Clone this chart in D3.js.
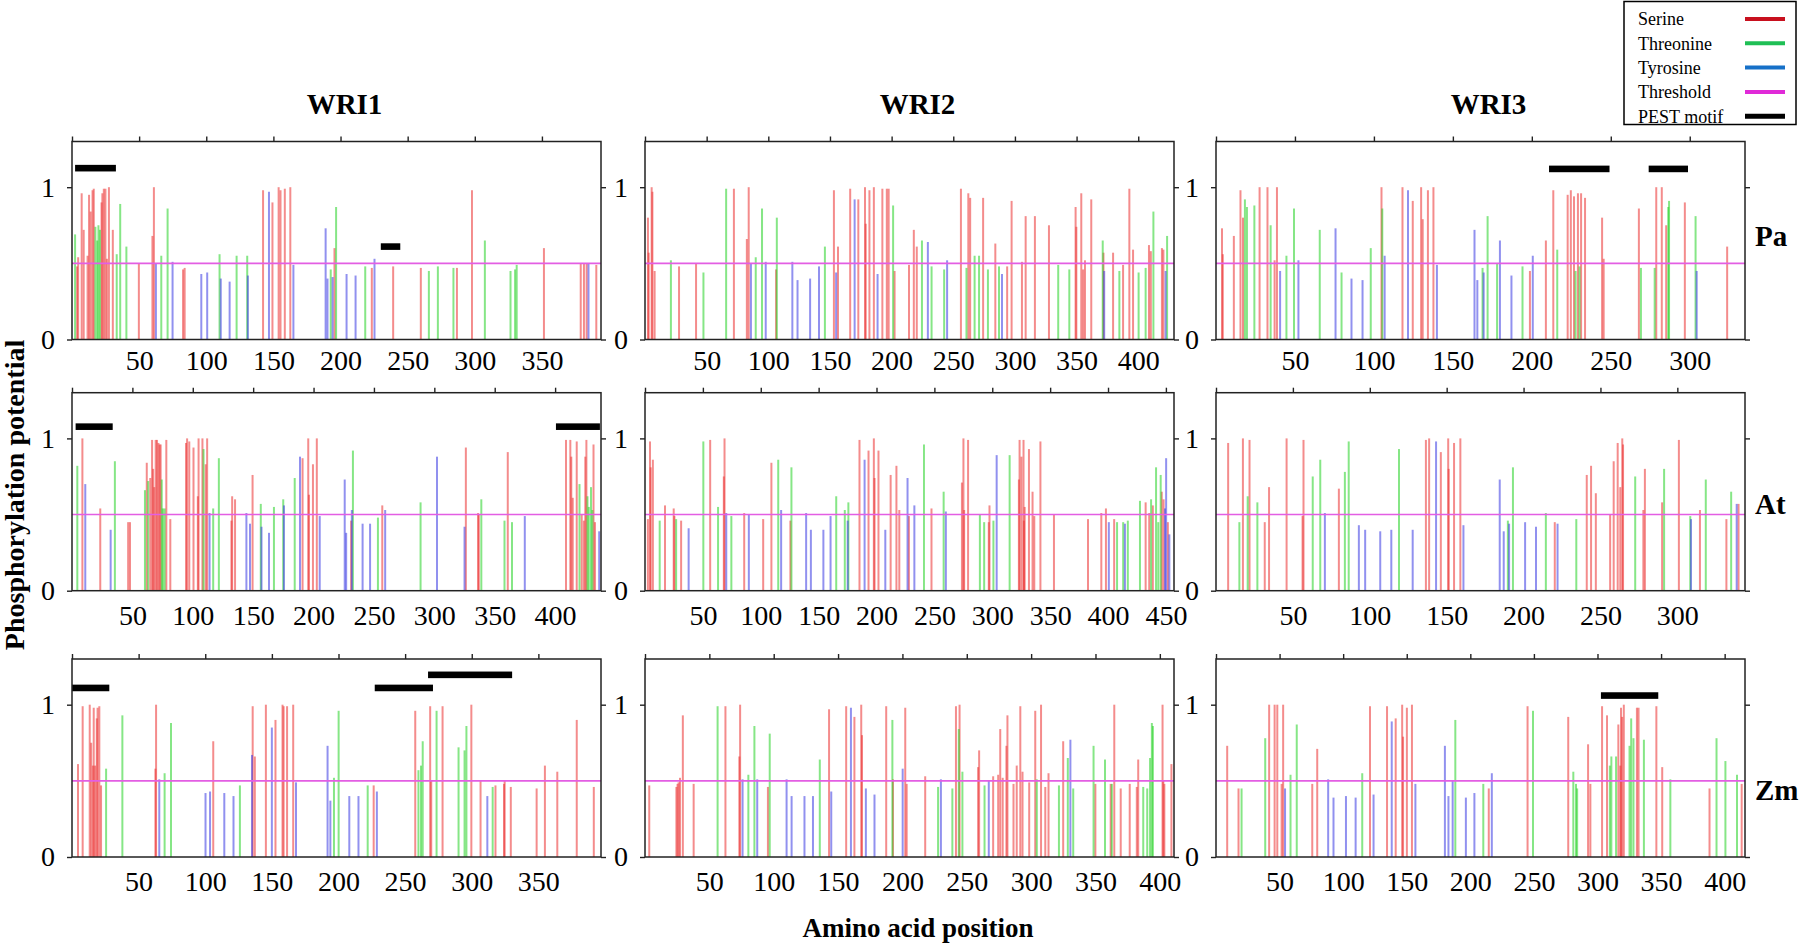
<!DOCTYPE html>
<html><head><meta charset="utf-8">
<script src="https://cdn.jsdelivr.net/npm/d3@7"></script>
<style>
body{margin:0;background:#fff}
text{font-family:"Liberation Serif","Times New Roman",Times,serif;fill:#000}
</style>
</head><body>
<svg id="chart" width="1800" height="947"></svg>
<script>
// ---------------- DATA ----------------
const proteins = ["WRI1", "WRI2", "WRI3"];
const species = ["Pa", "At", "Zm"];
const residueTypes = ["Serine", "Threonine", "Tyrosine"];
const legendItems = ["Serine", "Threonine", "Tyrosine", "Threshold", "PEST motif"];
const threshold = 0.5;
// axis extent (amino acids) per species row / protein column
const seqLength = [[394, 429, 335], [438, 457, 344], [397, 411, 416]];
const tickLabels = [
  [[50,100,150,200,250,300,350], [50,100,150,200,250,300,350,400], [50,100,150,200,250,300]],
  [[50,100,150,200,250,300,350,400], [50,100,150,200,250,300,350,400,450], [50,100,150,200,250,300]],
  [[50,100,150,200,250,300,350], [50,100,150,200,250,300,350,400], [50,100,150,200,250,300,350,400]]
];

// [position, phosphorylation potential]
const WRI1_Pa_Ser = [[3.8,.48],[4.6,.54],[7.2,.96],[8.7,.72],[11.6,.55],[12.7,.95],[13.9,.84],[15.3,.98],[16.2,.99],[22,.9],[22.6,.96],[23.7,.99],[24.9,.99],[26,.53],[27.5,1],[30.4,.72],[49.8,.5],[59.9,.68],[61,1],[82.7,.46],[83.9,.47],[142.3,.98],[149.3,.9],[153.9,1],[155.3,.98],[158.5,.99],[162.6,1],[195.5,.6],[223.3,.47],[239.2,.48],[259.8,.47],[286.7,.47],[297.9,.98],[351.5,.6],[378.9,.5],[381.3,.5],[383.3,.5],[390.5,.49]];
const WRI1_Pa_Thr = [[2.3,.69],[17.4,.74],[18.8,.65],[19.7,.75],[20.8,.72],[33.3,.56],[35.9,.89],[40.5,.61],[66.5,.55],[71.2,.86],[109.9,.56],[122.6,.55],[130.5,.55],[192.7,.46],[196.7,.87],[218.4,.48],[265.8,.45],[272.5,.48],[284.1,.47],[307.5,.65],[326.6,.45],[330,.46],[331.2,.49]];
const WRI1_Pa_Tyr = [[62.5,.5],[74.9,.51],[96.3,.43],[100.7,.44],[110.8,.4],[117.4,.38],[131,.42],[146.7,.97],[164.9,.49],[188.9,.73],[190.3,.4],[194.1,.41],[204.5,.43],[211.2,.42],[225.3,.53],[384.7,.5]];
const WRI1_Pa_PEST = [[2.3,32.7,1.125],[230,244.5,0.61]];

const WRI2_Pa_Ser = [[2.4,.8],[3,.57],[5.4,1],[6,.97],[7.8,.45],[27.6,.48],[41.4,.5],[72.1,.99],[82.6,.66],[84.1,1],[106.3,.46],[153.2,.98],[156.5,.61],[166.4,.99],[173,.92],[178.4,1],[179,.76],[182,.98],[185.6,1],[192.5,.99],[196.1,.99],[197.6,.99],[202.4,.45],[214.1,.49],[218,.72],[220.4,.61],[256.2,.99],[262.2,.96],[263.7,.93],[274.2,.93],[284.1,.63],[293.7,.48],[297.3,.91],[305.7,.51],[308.7,.81],[316.2,.81],[327.6,.75],[349.2,.87],[349.8,.74],[353.8,.96],[355.3,.46],[356.8,.52],[361.9,.92],[371.8,.57],[379.6,.57],[387.7,.49],[392.8,.99],[395.8,.59],[408.7,.62],[410.2,.58],[419.2,.6],[420.4,.59]];
const WRI2_Pa_Thr = [[21,.52],[47.4,.44],[65.8,.99],[89.8,.54],[94.9,.86],[106.9,.8],[145.9,.61],[201.2,.88],[224.6,.65],[232.4,.48],[242.6,.46],[260.7,.47],[267.3,.55],[270.9,.55],[278.1,.46],[287.1,.48],[335.1,.49],[344.1,.46],[371.2,.65],[384.7,.45],[400.3,.44],[406,.47],[412.3,.84],[423.4,.68]];
const WRI2_Pa_Tyr = [[85.9,.5],[97.9,.51],[119.5,.51],[123.7,.39],[133.9,.4],[141.1,.48],[155,.44],[170,.92],[188.6,.43],[229.4,.64],[245,.52],[289.5,.43],[372.4,.45],[422.2,.45]];
const WRI2_Pa_PEST = [];

const WRI3_Pa_Ser = [[3.8,.73],[4.3,.56],[11.3,.68],[15.5,.98],[17.1,.8],[27.6,1],[32.6,1],[37.1,.52],[38.6,1],[104.8,1],[118.1,1],[124.6,.91],[129.9,1],[130.9,.79],[134.2,.98],[137.7,1],[198.8,.45],[208.9,.65],[213.6,.98],[222.7,.95],[224.7,.98],[226.7,.94],[229.2,.96],[231.2,.96],[233.7,.93],[244.5,.8],[245.5,.53],[267.8,.86],[278.8,1],[282.3,1],[285.1,.75],[296.9,.9],[323.7,.61]];
const WRI3_Pa_Thr = [[18.3,.92],[19.6,.87],[24.3,.88],[34.6,.75],[44.6,.55],[49.4,.86],[65.7,.72],[79.5,.44],[98,.6],[105.3,.86],[168.8,.47],[172,.81],[178,.5],[194.1,.48],[216.1,.59],[227.7,.45],[230.2,.48],[269.1,.47],[277.8,.47],[286.4,.87],[286.9,.91],[303.7,.81]];
const WRI3_Pa_Tyr = [[40.6,.45],[52.2,.52],[75.7,.73],[85.8,.4],[92.8,.39],[106.8,.55],[121.6,.98],[139.9,.49],[163.7,.72],[165.5,.39],[169.5,.44],[179.8,.65],[187.1,.42],[200.6,.55],[304.4,.45]];
const WRI3_Pa_PEST = [[210.9,249.2,1.12],[274,298.9,1.12]];

const WRI1_At_Ser = [[8.6,1],[23.4,.54],[46.5,.45],[48,.45],[61.9,.84],[64.8,.74],[66.3,.99],[67.2,.8],[68.1,.68],[69.3,.99],[70.4,.99],[71.6,.97],[72.5,.96],[73.4,.96],[78.1,.99],[81.4,.47],[94.4,.97],[95.3,1],[97.1,.98],[100.6,.94],[104.2,.62],[104.8,1],[108,1],[110.7,.83],[111.9,1],[132,.46],[132.6,.62],[135,.6],[149.5,.76],[190.9,.87],[195.6,1],[196.2,.63],[199.5,.83],[202.7,1],[231.1,.46],[256.9,.56],[326.1,.94],[336.2,.51],[336.8,.5],[360.8,.91],[409,.99],[412.6,.99],[413.4,.88],[414.6,.61],[417.9,.98],[422,.5],[423.8,.46],[425,.88],[425.9,.99],[431.8,.96],[433,.45]];
const WRI1_At_Thr = [[4.4,.82],[35.5,.85],[60.4,.66],[63.1,.72],[74.3,.73],[75.2,.54],[76.7,.54],[108.9,.93],[116.9,.54],[121.6,.87],[156.3,.57],[167.2,.55],[174.9,.6],[184.4,.74],[232.6,.92],[253.3,.48],[288.6,.58],[338.9,.6],[358.1,.46],[364.3,.45],[420.2,.7],[426.8,.62],[427.9,.55],[429.7,.68],[430.9,.53]];
const WRI1_At_Tyr = [[11,.7],[32,.4],[113.9,.51],[144.4,.51],[147.4,.44],[156.9,.42],[163.1,.38],[175.5,.56],[188.8,.88],[205.1,.49],[225.8,.73],[227,.38],[231.7,.53],[240.6,.44],[246.8,.44],[259.3,.53],[302.2,.88],[325,.42],[374.9,.49],[436.5,.39]];
const WRI1_At_PEST = [[3,33.7,1.077],[400.7,437.1,1.077]];

const WRI2_At_Ser = [[2.5,.47],[4.3,.98],[4.9,.81],[6.8,.86],[17.3,.56],[24.8,.54],[25.4,.49],[31.2,.46],[56.3,.99],[68.1,.75],[68.7,1],[85.7,.51],[102.1,.47],[109.2,.84],[125.6,.46],[185.3,.99],[193.1,.92],[197.7,1],[198.3,.74],[201.7,.92],[212.2,.76],[217.2,.82],[219.7,.53],[228,.49],[247.5,.54],[273.8,.71],[275.1,1],[275.7,.53],[279.1,.99],[297,.45],[297.6,.56],[323,.73],[323.6,.99],[325.2,.88],[327,.99],[327.3,.46],[328,.55],[331.7,.93],[334.8,.65],[336.3,.49],[341.6,.98],[353.3,.5],[382.7,.47],[394.2,.51],[398.2,.54],[405.3,.47],[432.5,.58],[435.6,.51],[438.7,.56],[446.4,.65],[448,.6],[451.7,.45]];
const WRI2_At_Thr = [[12.7,.46],[26.9,.47],[50.4,.98],[63.1,.55],[74.6,.49],[115.1,.86],[126.5,.81],[165.2,.62],[172.6,.53],[175.7,.58],[241,.96],[258,.65],[289.3,.5],[293,.45],[301,.46],[315,.89],[407.8,.45],[413.1,.45],[417.1,.46],[427.6,.59],[437.2,.6],[441.5,.81],[443.4,.45],[445.5,.76]];
const WRI2_At_Tyr = [[37.7,.41],[70.2,.51],[89.7,.5],[117.6,.53],[139.2,.51],[143.3,.4],[154.1,.4],[160.3,.49],[175.1,.46],[189.7,.86],[207.6,.4],[226.8,.74],[232.7,.56],[259.9,.52],[303.8,.89],[400.7,.45],[414.6,.44],[449.2,.54],[450.2,.87],[453,.37]];
const WRI2_At_PEST = [];

const WRI3_At_Ser = [[7.9,.97],[17.5,1],[21.8,.99],[31.7,.45],[34.5,.68],[45.9,1],[56.3,.49],[56.9,.99],[79.9,.67],[136.5,.99],[138.6,1],[146.2,.91],[151,1],[151.3,.8],[154.8,.97],[158.9,1],[220.3,.45],[241.1,.76],[243.9,.82],[247,.64],[256.3,.5],[258.6,.85],[261.2,.97],[262.9,.68],[264.2,1],[264.7,.96],[277.9,.53],[278.9,.8],[290.1,.58],[301,.99],[314.7,.53],[331.9,.47],[339.8,.57]];
const WRI3_At_Thr = [[15.2,.45],[20.6,.62],[26.9,.58],[62.9,.75],[67.8,.86],[83.8,.78],[86.3,.98],[119,.93],[189.8,.46],[193.1,.81],[214.5,.51],[234.3,.47],[272.6,.75],[291.4,.8],[308.4,.49],[318.5,.73],[335,.65]];
const WRI3_At_Tyr = [[70.8,.51],[92.9,.43],[97,.4],[106.8,.39],[114,.4],[127.9,.4],[143.1,.98],[160.9,.43],[184.5,.73],[187.1,.39],[190.6,.44],[201,.45],[208.1,.42],[222.1,.44],[308.9,.47],[338.6,.57]];
const WRI3_At_PEST = [];

const WRI1_Zm_Ser = [[4.5,.61],[8,.99],[13.3,1],[14.4,.75],[15.7,.6],[16.3,.98],[17.3,.6],[18.6,.91],[19.2,.98],[20.5,.99],[21.8,.47],[62.6,.58],[63.1,1],[106,.76],[135.6,.99],[137.2,.66],[145.5,1],[152.7,.9],[158,1],[158.8,.99],[161.4,.99],[166,1],[226.4,.47],[257.6,.96],[268.8,.99],[269.6,.5],[278.1,.99],[299.7,1],[306.6,.5],[317.8,.47],[324.2,.48],[324.7,.5],[329.3,.46],[348.7,.45],[354.9,.6],[364.2,.56],[378.8,.9],[391.6,.46]];
const WRI1_Zm_Thr = [[25.6,.58],[37.8,.93],[69.5,.55],[74.3,.88],[126,.47],[196.6,.52],[200.1,.96],[221.9,.47],[260,.57],[261.9,.6],[263.2,.76],[273.6,.96],[290.1,.72],[294.6,.7],[296,.86],[315.7,.46]];
const WRI1_Zm_Tyr = [[65.5,.51],[100.2,.42],[103.6,.43],[114.3,.42],[121.2,.4],[135.1,.67],[150,.85],[168.1,.49],[191.8,.73],[193.9,.37],[208.1,.4],[215,.4],[228.8,.43],[311.7,.4]];
const WRI1_Zm_PEST = [[0,28,1.11],[227.2,270.9,1.11],[267.2,330.3,1.196]];

const WRI2_Zm_Ser = [[3.3,.47],[24.4,.46],[25.3,.48],[26.1,.49],[27.2,.52],[29.4,.93],[37.8,.48],[62.5,.99],[73.3,.66],[73.9,1],[95.5,.46],[143,.97],[156.3,.99],[162.7,.92],[168,1],[168.6,.8],[187.4,.99],[192.7,.51],[202.2,.98],[203.3,.48],[217.7,.53],[241.6,.99],[244.4,1],[258.8,.59],[259.6,.7],[270.5,.53],[274.4,.54],[276,.84],[277.9,.52],[280.8,.73],[281.6,.93],[286.3,.48],[288.8,.6],[291.6,.99],[293.3,.56],[298.5,.49],[303.2,.96],[307.7,1],[311,.46],[313.5,.55],[324.9,.76],[349.9,.48],[361.8,.48],[364.6,1],[369.6,.45],[376.6,.48],[382.1,.46],[383.2,.64],[402.1,1],[402.7,.5],[403.5,.48],[409,.61]];
const WRI2_Zm_Thr = [[56.4,.99],[80.3,.54],[85,.86],[96.9,.81],[135.8,.64],[192.2,.9],[227.7,.46],[238.8,.45],[243.8,.84],[246.6,.56],[263.8,.47],[304.4,.51],[321.6,.47],[328.5,.65],[332.7,.45],[348.5,.73],[357.4,.64],[362.7,.48],[387.1,.46],[390.2,.45],[392.4,.65],[393.8,.88],[394.6,.86]];
const WRI2_Zm_Tyr = [[75.8,.51],[87.2,.51],[110,.51],[113.9,.4],[123.9,.4],[130.5,.4],[144.7,.43],[160,.98],[171.6,.45],[178.3,.41],[200.2,.58],[229.9,.51],[267.1,.5],[330.5,.77]];
const WRI2_Zm_PEST = [];

const WRI3_Zm_Ser = [[8.8,.73],[17.7,.45],[41.8,1],[46.1,1],[48.2,1],[51.6,.48],[52.8,1],[75.7,.48],[79.6,.71],[121.1,.99],[134.5,.99],[141.3,.91],[146.4,1],[147.1,.79],[150.1,.98],[154.1,1],[214.5,.45],[245,.99],[277,.92],[292.6,.74],[294.4,.48],[303.6,.99],[307.5,.93],[316.4,.87],[317.9,.6],[318.5,.98],[319.4,.92],[320.7,1],[331,.98],[332.3,.98],[346.3,.99],[350.9,.59],[388.1,.45],[413.4,.48]];
const WRI3_Zm_Thr = [[20.1,.45],[38.7,.78],[58.6,.54],[63.5,.87],[115,.55],[188.2,.9],[210.2,.48],[249.3,.96],[281,.56],[283.1,.48],[284,.45],[309.7,.6],[310.9,.66],[314.6,.66],[325.2,.73],[326.5,.91],[328.3,.78],[336.5,.77],[357.3,.51],[393.6,.78],[400.6,.63],[409.7,.54]];
const WRI3_Zm_Tyr = [[54.3,.45],[88.2,.51],[92.4,.39],[102.2,.4],[109.8,.39],[123.9,.41],[138.2,.89],[156.8,.48],[180,.73],[182.8,.4],[186.1,.5],[196.5,.39],[203.2,.42],[216.9,.55]];
const WRI3_Zm_PEST = [[302.7,347.8,1.06]];

// table built from the named arrays
const panelData = {
  WRI1_Pa:[WRI1_Pa_Ser,WRI1_Pa_Thr,WRI1_Pa_Tyr,WRI1_Pa_PEST],
  WRI2_Pa:[WRI2_Pa_Ser,WRI2_Pa_Thr,WRI2_Pa_Tyr,WRI2_Pa_PEST],
  WRI3_Pa:[WRI3_Pa_Ser,WRI3_Pa_Thr,WRI3_Pa_Tyr,WRI3_Pa_PEST],
  WRI1_At:[WRI1_At_Ser,WRI1_At_Thr,WRI1_At_Tyr,WRI1_At_PEST],
  WRI2_At:[WRI2_At_Ser,WRI2_At_Thr,WRI2_At_Tyr,WRI2_At_PEST],
  WRI3_At:[WRI3_At_Ser,WRI3_At_Thr,WRI3_At_Tyr,WRI3_At_PEST],
  WRI1_Zm:[WRI1_Zm_Ser,WRI1_Zm_Thr,WRI1_Zm_Tyr,WRI1_Zm_PEST],
  WRI2_Zm:[WRI2_Zm_Ser,WRI2_Zm_Thr,WRI2_Zm_Tyr,WRI2_Zm_PEST],
  WRI3_Zm:[WRI3_Zm_Ser,WRI3_Zm_Thr,WRI3_Zm_Tyr,WRI3_Zm_PEST]
};

// ---------------- LAYOUT / STYLE ----------------
const colLeft = [72, 645, 1216];
const panelW = 529;
const rowTop = [141.5, 392.7, 659];
const panelH = 198;
const barColors = ["rgba(235,45,45,0.55)", "rgba(35,210,35,0.55)", "rgba(55,55,225,0.55)"];
const legendColors = ["#c8101e", "#1fbf55", "#1670c8", "#e02ad8", "#000"];
const rowLabelY = [0.68, 0.57, 0.44];

const svg = d3.select("#chart");
svg.append("rect").attr("width",1800).attr("height",947).attr("fill","#fff");

species.forEach((sp, r) => {
  proteins.forEach((pr, c) => {
    const L = seqLength[r][c];
    const x = d3.scaleLinear().domain([0, L]).range([colLeft[c], colLeft[c] + panelW]);
    const y = d3.scaleLinear().domain([0, 1.3]).range([rowTop[r] + panelH, rowTop[r]]);
    const g = svg.append("g").attr("class", `panel ${pr}_${sp}`);
    const [ser, thr, tyr, pest] = panelData[`${pr}_${sp}`];

    [ser, thr, tyr].forEach((arr, k) => {
      g.append("g").selectAll("line").data(arr).join("line")
        .attr("x1", d => x(d[0])).attr("x2", d => x(d[0]))
        .attr("y1", y(0)).attr("y2", d => y(d[1]))
        .attr("stroke", barColors[k]).attr("stroke-width", 2);
    });

    // threshold
    g.append("line")
      .attr("x1", x(0)).attr("x2", x(L))
      .attr("y1", y(threshold)).attr("y2", y(threshold))
      .attr("stroke", "#e35ee3").attr("stroke-width", 1.6);

    // PEST motifs
    g.append("g").selectAll("rect").data(pest).join("rect")
      .attr("x", d => x(d[0])).attr("width", d => x(d[1]) - x(d[0]))
      .attr("y", d => y(d[2]) - 3.3).attr("height", 6.6)
      .attr("fill", "#000");

    // frame
    g.append("rect")
      .attr("x", x(0)).attr("y", y(1.3)).attr("width", panelW).attr("height", panelH)
      .attr("fill", "none").attr("stroke", "#222").attr("stroke-width", 1.5);

    // axes
    const top = g.append("g").attr("transform", `translate(0,${y(1.3)})`)
      .call(d3.axisTop(x).tickValues(d3.range(0, L + 1, 50)).tickSize(5).tickFormat(""));
    const bottom = g.append("g").attr("transform", `translate(0,${y(0)})`)
      .call(d3.axisBottom(x).tickValues(tickLabels[r][c]).tickSize(0).tickPadding(r === 0 ? 11 : 14));
    const left = g.append("g").attr("transform", `translate(${x(0)},0)`)
      .call(d3.axisLeft(y).tickValues([0, 1]).tickSize(5).tickPadding(12).tickFormat(d3.format("d")));
    const right = g.append("g").attr("transform", `translate(${x(L)},0)`)
      .call(d3.axisRight(y).tickValues([0, 1]).tickSize(5).tickFormat(""));
    [top, bottom, left, right].forEach(a => {
      a.select(".domain").remove();
      a.selectAll("line").attr("stroke", "#222").attr("stroke-width", 1.4);
      a.selectAll("text").attr("font-size", 28).attr("font-family", '"Liberation Serif","Times New Roman",serif').attr("fill", "#000");
    });

    if (r === 0) {
      svg.append("text").attr("x", colLeft[c] + panelW / 2 + 8).attr("y", 114)
        .attr("text-anchor", "middle").attr("font-size", 29).attr("font-weight", "bold").text(pr);
    }
    if (c === 2) {
      svg.append("text").attr("x", 1755).attr("y", y(rowLabelY[r]))
        .attr("dy", "0.35em").attr("font-size", 29).attr("font-weight", "bold").text(sp);
    }
  });
});

// axis titles
svg.append("text").attr("transform", "translate(24,495) rotate(-90)")
  .attr("text-anchor", "middle").attr("font-size", 28).attr("font-weight", "bold")
  .text("Phosphorylation potential");
svg.append("text").attr("x", 918).attr("y", 937)
  .attr("text-anchor", "middle").attr("font-size", 27).attr("font-weight", "bold")
  .text("Amino acid position");

// legend
const lg = svg.append("g").attr("class", "legend");
lg.append("rect").attr("x", 1624).attr("y", 1.5).attr("width", 172).attr("height", 123)
  .attr("fill", "#fff").attr("stroke", "#000").attr("stroke-width", 1.5);
legendItems.forEach((name, i) => {
  const yy = 19 + i * 24.3;
  lg.append("text").attr("x", 1638).attr("y", yy).attr("dy", "0.35em")
    .attr("font-size", 18).text(name);
  lg.append("line").attr("x1", 1745).attr("x2", 1785).attr("y1", yy).attr("y2", yy)
    .attr("stroke", legendColors[i]).attr("stroke-width", i === 4 ? 5 : 4);
});
</script>
</body></html>
